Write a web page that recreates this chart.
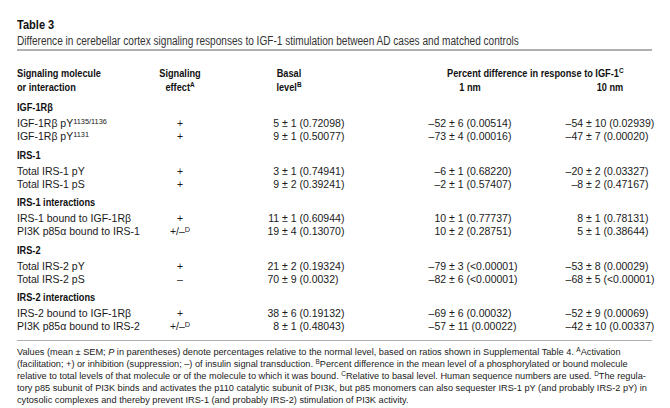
<!DOCTYPE html>
<html>
<head>
<meta charset="utf-8">
<script src="https://cdn.jsdelivr.net/npm/chart.js@4"></script>
<style>
  html, body { margin: 0; padding: 0; background: #fff; }
  body { width: 670px; height: 408px; position: relative; overflow: hidden;
         font-family: "Liberation Sans", Arial, sans-serif; color: #1a1a1a; }
  .t { position: absolute; white-space: nowrap; line-height: 14px; }
  .body { font-size: 10.5px; }
  .hd { font-weight: bold; font-size: 11.5px; color: #111; }
  sup { font-size: 70%; vertical-align: 0; position: relative; top: -0.45em; line-height: 0; }
  .rule { position: absolute; left: 17px; width: 635px; background: #b0b0b0; }
</style>
</head>
<body>
<div id="root"></div>
<script>
// ---- table content ----
const title = "Table 3";
const subtitle = "Difference in cerebellar cortex signaling responses to IGF-1 stimulation between AD cases and matched controls";
const colHeaders = [
  ["Signaling molecule", "or interaction"],
  ["Signaling", "effect<sup>A</sup>"],
  ["Basal", "level<sup>B</sup>"],
  ["Percent difference in response to IGF-1<sup>C</sup>"],
  ["1 nm"],
  ["10 nm"]
];
const sections = ["IGF-1R&beta;", "IRS-1", "IRS-1 interactions", "IRS-2", "IRS-2 interactions"];
const rowLabels = [
  "IGF-1R&beta; pY<sup>1135/1136</sup>", "IGF-1R&beta; pY<sup>1131</sup>",
  "Total IRS-1 pY", "Total IRS-1 pS",
  "IRS-1 bound to IGF-1R&beta;", "PI3K p85&alpha; bound to IRS-1",
  "Total IRS-2 pY", "Total IRS-2 pS",
  "IRS-2 bound to IGF-1R&beta;", "PI3K p85&alpha; bound to IRS-2"
];
const effects = ["+", "+", "+", "+", "+", "+/–<sup>D</sup>", "+", "–", "+", "+/–<sup>D</sup>"];
const basalMean = ["5", "9", "3", "9", "11", "19", "21", "70", "38", "8"];
const basalSem  = ["1", "1", "1", "2", "1", "4", "2", "9", "6", "1"];
const basalP    = ["0.72098", "0.50077", "0.74941", "0.39241", "0.60944", "0.13070", "0.19324", "0.0032", "0.19132", "0.48043"];
const nm1Mean = ["–52", "–73", "–6", "–2", "10", "10", "–79", "–82", "–69", "–57"];
const nm1Sem  = ["6", "4", "1", "1", "1", "2", "3", "6", "6", "11"];
const nm1P    = ["0.00514", "0.00016", "0.68220", "0.57407", "0.77737", "0.28751", "&lt;0.00001", "&lt;0.00001", "0.00032", "0.00022"];
const nm10Mean = ["–54", "–47", "–20", "–8", "8", "5", "–53", "–68", "–52", "–42"];
const nm10Sem  = ["10", "7", "2", "2", "1", "1", "8", "5", "9", "10"];
const nm10P    = ["0.02939", "0.00020", "0.03327", "0.47167", "0.78131", "0.38644", "0.00029", "&lt;0.00001", "0.00069", "0.00337"];
const footnoteLines = [
  "Values (mean ± SEM; <i>P</i> in parentheses) denote percentages relative to the normal level, based on ratios shown in Supplemental Table 4. <sup>A</sup>Activation",
  "(facilitation; +) or inhibition (suppression; –) of insulin signal transduction. <sup>B</sup>Percent difference in the mean level of a phosphorylated or bound molecule",
  "relative to total levels of that molecule or of the molecule to which it was bound. <sup>C</sup>Relative to basal level. Human sequence numbers are used. <sup>D</sup>The regula-",
  "tory p85 subunit of PI3K binds and activates the p110 catalytic subunit of PI3K, but p85 monomers can also sequester IRS-1 pY (and probably IRS-2 pY) in",
  "cytosolic complexes and thereby prevent IRS-1 (and probably IRS-2) stimulation of PI3K activity."
];

// ---- layout ----
const root = document.getElementById('root');
function put(html, cls, x, cy, align, extraStyle, sx) {
  const d = document.createElement('div');
  d.className = 't ' + cls;
  d.innerHTML = html;
  d.style.top = (cy - 7) + 'px';
  const s = sx ? ' scaleX(' + sx + ')' : '';
  if (align === 'right') { d.style.right = (670 - x) + 'px'; d.style.transformOrigin = 'right center'; d.style.transform = s; }
  else { d.style.left = x + 'px'; d.style.transformOrigin = 'left center'; d.style.transform = s; }
  if (extraStyle) d.style.cssText += ';' + extraStyle;
  root.appendChild(d);
  return d;
}
function centered(html, cls, x, cy, sx) {
  const w = document.createElement('div');
  w.className = 't ' + cls;
  w.style.top = (cy - 7) + 'px';
  w.style.left = (x - 100) + 'px';
  w.style.width = '200px';
  w.style.textAlign = 'center';
  w.innerHTML = html;
  if (sx) { w.style.transform = 'scaleX(' + sx + ')'; w.style.transformOrigin = '50% 50%'; }
  root.appendChild(w);
}
function rule(y, h) {
  const r = document.createElement('div');
  r.className = 'rule'; r.style.top = y + 'px'; r.style.height = h + 'px';
  root.appendChild(r);
}

const NARROW = 0.8;
put(title, '', 17, 25, 'left', 'font-weight:bold;font-size:12px;color:#111', 0.92);
put(subtitle, '', 17, 41, 'left', 'font-size:12px;color:#333', 0.84);
rule(49, 2);

// column anchors (x of the ± sign for value columns)
const colEffect = 180, pmBasal = 282, pm1 = 449, pm10 = 586;

// headers
put(colHeaders[0][0], 'hd', 17, 73, 'left', '', NARROW);
put(colHeaders[0][1], 'hd', 17, 87, 'left', '', NARROW);
centered(colHeaders[1][0], 'hd', colEffect, 73, NARROW);
centered(colHeaders[1][1], 'hd', colEffect, 87, NARROW);
centered(colHeaders[2][0], 'hd', 289, 73, NARROW);
centered(colHeaders[2][1], 'hd', 289, 87, NARROW);
put(colHeaders[3][0], 'hd', 624, 73, 'right', '', NARROW);
centered(colHeaders[4][0], 'hd', 470, 87, NARROW);
centered(colHeaders[5][0], 'hd', 610, 87, NARROW);

// value cell aligned on the ± sign
function valueCell(mean, sem, p, pmX, cy) {
  put(mean + '&nbsp;', 'body', pmX, cy, 'right');
  put('± ' + sem + ' (' + p + ')', 'body', pmX, cy, 'left');
}

const secTop = 107, secStep = 47.5;
sections.forEach((s, si) => {
  const cy = Math.round(secTop + si * secStep);
  put(s, 'hd', 17, cy, 'left', '', NARROW);
  for (let k = 0; k < 2; k++) {
    const i = si * 2 + k;
    const ry = cy + 16 + k * 13;
    put(rowLabels[i], 'body', 17, ry, 'left');
    centered(effects[i], 'body', colEffect, ry);
    valueCell(basalMean[i], basalSem[i], basalP[i], pmBasal, ry);
    valueCell(nm1Mean[i], nm1Sem[i], nm1P[i], pm1, ry);
    valueCell(nm10Mean[i], nm10Sem[i], nm10P[i], pm10, ry);
  }
});

rule(340, 1);
footnoteLines.forEach((l, i) => {
  put(l, '', 17, 353 + i * 12, 'left', 'font-size:9.2px;line-height:12px;color:#1a1a1a');
});
</script>
</body>
</html>
